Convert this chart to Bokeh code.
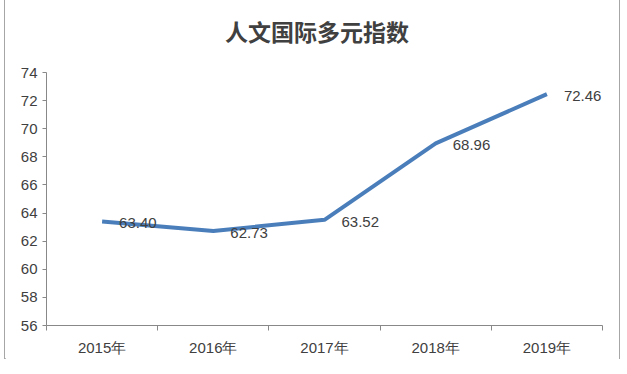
from bokeh.plotting import figure
from bokeh.models import FixedTicker, Range1d, ColumnDataSource, Div
from bokeh.layouts import column
from bokeh.embed import file_html
from bokeh.resources import INLINE
from bokeh.core.properties import value

title_text = "人文国际多元指数"
years = ["2015年", "2016年", "2017年", "2018年", "2019年"]
index_values = [63.40, 62.73, 63.52, 68.96, 72.46]
y_ticks = [56, 58, 60, 62, 64, 66, 68, 70, 72, 74]

xs = [i + 0.5 for i in range(len(years))]
src = ColumnDataSource(dict(x=xs, y=index_values, lbl=["%.2f" % v for v in index_values]))

title_div = Div(text=title_text, width=616, height=56,
                styles={"font-family": "'Noto Sans CJK SC'", "font-size": "23px",
                        "font-weight": "bold", "color": "#404040",
                        "text-align": "center", "line-height": "60px",
                        "width": "616px"})

p = figure(width=616, height=308, output_backend="svg", toolbar_location=None,
           x_range=Range1d(0, len(years)), y_range=Range1d(56, 74),
           min_border_left=41, min_border_right=17, min_border_top=10, min_border_bottom=45)
p.outline_line_color = None
p.xgrid.visible = False
p.ygrid.visible = False

p.line("x", "y", source=src, line_color="#4a7ebb", line_width=4)
p.text("x", "y", text="lbl", source=src, x_offset=17, y_offset=2,
       text_baseline="middle", text_font=value("Liberation Sans"),
       text_font_size="15px", text_color="#404040")

xa = p.xaxis[0]
xa.ticker = FixedTicker(ticks=xs, minor_ticks=list(range(len(years) + 1)))
xa.major_label_overrides = {x: y for x, y in zip(xs, years)}
xa.major_tick_out = 0
xa.major_tick_in = 0
xa.minor_tick_out = 5
xa.minor_tick_in = 0
xa.minor_tick_line_color = "#888888"
xa.axis_line_color = "#888888"
xa.major_label_standoff = 8
xa.major_label_text_font = "Liberation Sans"
xa.major_label_text_font_size = "15px"
xa.major_label_text_color = "#404040"

ya = p.yaxis[0]
ya.ticker = FixedTicker(ticks=y_ticks)
ya.minor_tick_line_color = None
ya.major_tick_out = 4
ya.major_tick_in = 0
ya.major_tick_line_color = "#888888"
ya.axis_line_color = "#888888"
ya.major_label_standoff = 5
ya.major_label_text_font = "Liberation Sans"
ya.major_label_text_font_size = "15px"
ya.major_label_text_color = "#404040"

layout = column(title_div, p, spacing=0, width=616, height=364, sizing_mode="fixed",
                styles={"border": "1px solid #a6a6a6", "margin-left": "4px", "margin-top": "-5px",
                        "width": "616px"})

open("out.html", "w").write(file_html(layout, INLINE))
